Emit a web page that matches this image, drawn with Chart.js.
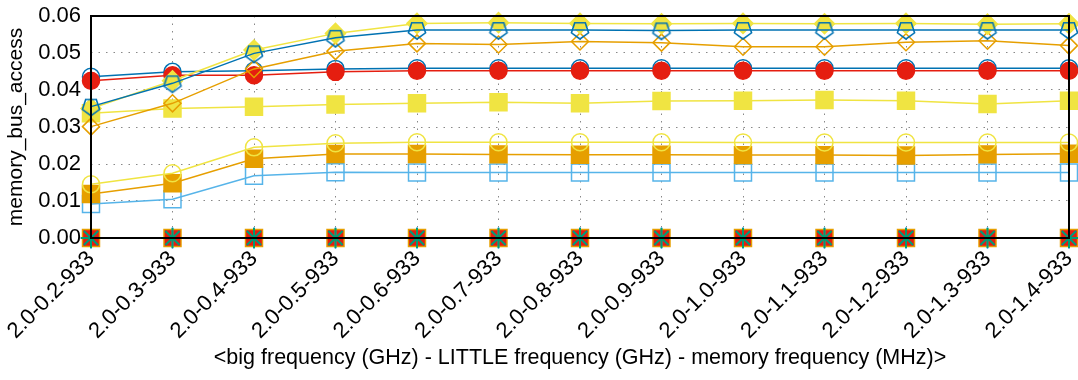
<!DOCTYPE html>
<html>
<head>
<meta charset="utf-8">
<script src="https://cdn.jsdelivr.net/npm/chart.js@4.4.0/dist/chart.umd.min.js"></script>
<style>
  html, body { margin: 0; padding: 0; background: #fff; }
  #wrap { width: 1078px; height: 380px; }
</style>
</head>
<body>
<div id="wrap"><canvas id="chart" width="1078" height="380"></canvas></div>
<script>
// categories: big freq - LITTLE freq - memory freq
const labels = [
  "2.0-0.2-933", "2.0-0.3-933", "2.0-0.4-933", "2.0-0.5-933", "2.0-0.6-933",
  "2.0-0.7-933", "2.0-0.8-933", "2.0-0.9-933", "2.0-1.0-933", "2.0-1.1-933",
  "2.0-1.2-933", "2.0-1.3-933", "2.0-1.4-933",
];

const yTicks = [0, 0.01, 0.02, 0.03, 0.04, 0.05, 0.06];

// series
const yellowDiamond = [0.0350, 0.0425, 0.0508, 0.0553, 0.0580, 0.0582, 0.0580, 0.0579, 0.0580, 0.0579, 0.0580, 0.0578, 0.0579];
const bluePentagon  = [0.0355, 0.0418, 0.0499, 0.0541, 0.0562, 0.0562, 0.0562, 0.0561, 0.0562, 0.0562, 0.0562, 0.0562, 0.0562];
const orangeDiamond = [0.0301, 0.0364, 0.0457, 0.0505, 0.0526, 0.0523, 0.0531, 0.0528, 0.0517, 0.0517, 0.0529, 0.0533, 0.0520];
const redCircle     = [0.0425, 0.0440, 0.0440, 0.0449, 0.0452, 0.0452, 0.0452, 0.0452, 0.0452, 0.0452, 0.0452, 0.0452, 0.0452];
const blueCircle    = [0.0436, 0.0449, 0.0452, 0.0457, 0.0459, 0.0459, 0.0459, 0.0459, 0.0459, 0.0459, 0.0459, 0.0459, 0.0459];
const yellowSquare  = [0.0337, 0.0350, 0.0355, 0.0361, 0.0364, 0.0367, 0.0364, 0.0370, 0.0371, 0.0373, 0.0371, 0.0362, 0.0371];
const yellowCircle  = [0.0145, 0.0175, 0.0245, 0.0256, 0.0259, 0.0259, 0.0259, 0.0259, 0.0258, 0.0258, 0.0258, 0.0258, 0.0258];
const orangeSquare  = [0.0119, 0.0148, 0.0214, 0.0227, 0.0227, 0.0226, 0.0225, 0.0225, 0.0224, 0.0224, 0.0223, 0.0226, 0.0228];
const cyanSquare    = [0.0092, 0.0105, 0.0168, 0.0178, 0.0177, 0.0177, 0.0177, 0.0177, 0.0177, 0.0177, 0.0177, 0.0177, 0.0177];
const zeroA         = [0, 0, 0, 0, 0, 0, 0, 0, 0, 0, 0, 0, 0];
const zeroB         = [0, 0, 0, 0, 0, 0, 0, 0, 0, 0, 0, 0, 0];
const zeroC         = [0, 0, 0, 0, 0, 0, 0, 0, 0, 0, 0, 0, 0];
const zeroD         = [0, 0, 0, 0, 0, 0, 0, 0, 0, 0, 0, 0, 0];
const zeroE         = [0, 0, 0, 0, 0, 0, 0, 0, 0, 0, 0, 0, 0];

const YELLOW = "#f0e442", BLUE = "#0072b2", ORANGE = "#e69f00", RED = "#e51e10",
      SKY = "#56b4e9", TEAL = "#009e73", PURPLE = "#9400d3";

// hollow pentagon, point down
function pentagon(color) {
  const c = document.createElement("canvas");
  c.width = 22; c.height = 22;
  const g = c.getContext("2d");
  g.strokeStyle = color; g.lineWidth = 1.6;
  g.beginPath();
  for (let i = 0; i < 5; i++) {
    const a = Math.PI / 2 + i * 2 * Math.PI / 5;
    const px = 11 + 9 * Math.cos(a), py = 11 + 9 * Math.sin(a);
    i ? g.lineTo(px, py) : g.moveTo(px, py);
  }
  g.closePath(); g.stroke();
  return c;
}

function series(data, color, style, radius, filled, extra) {
  return Object.assign({
    data, borderColor: color, borderWidth: 1.5,
    pointStyle: style, pointRadius: radius, pointHoverRadius: radius,
    pointBorderColor: color, pointBorderWidth: 1.5,
    pointBackgroundColor: filled ? color : "rgba(0,0,0,0)",
    tension: 0, clip: false,
  }, extra || {});
}

const datasets = [
  series(zeroE, TEAL, "star", 10, false, { pointBorderWidth: 2 }),
  series(zeroD, PURPLE, "crossRot", 10, false),
  series(zeroC, SKY, "cross", 11, false),
  series(zeroB, RED, "rect", 10, true),
  series(zeroA, ORANGE, "rect", 12, true),
  series(bluePentagon, BLUE, pentagon(BLUE), 9, false),
  series(yellowDiamond, YELLOW, "rectRot", 10, true),
  series(orangeDiamond, ORANGE, "rectRot", 8.5, false),
  series(redCircle, RED, "circle", 8.5, true),
  series(blueCircle, BLUE, "circle", 8.5, false),
  series(yellowCircle, YELLOW, "circle", 8.5, false),
  series(orangeSquare, ORANGE, "rect", 12, true),
  series(yellowSquare, YELLOW, "rect", 12, true),
  series(cyanSquare, SKY, "rect", 12, false),
];

const frame = {
  id: "frame",
  afterDatasetsDraw(chart) {
    const { ctx, chartArea: a } = chart;
    ctx.save();
    ctx.strokeStyle = "#000"; ctx.lineWidth = 2;
    ctx.strokeRect(a.left, a.top, a.right - a.left, a.bottom - a.top);
    ctx.restore();
  },
};

const FONT = "'Liberation Sans', Arial, Helvetica, sans-serif";
const gridStyle = { color: "#888", lineWidth: 1, drawTicks: false };
const borderStyle = { display: false, dash: [1.5, 6] };

new Chart(document.getElementById("chart"), {
  type: "line",
  data: { labels, datasets },
  plugins: [frame],
  options: {
    responsive: false,
    animation: false,
    events: [],
    layout: { autoPadding: false, padding: { top: 16, right: 9, left: 0, bottom: 0 } },
    plugins: { legend: { display: false }, tooltip: { enabled: false } },
    scales: {
      x: {
        type: "category",
        offset: false,
        grid: gridStyle,
        border: borderStyle,
        ticks: { color: "#000", font: { family: FONT, size: 22 }, minRotation: 45, maxRotation: 45, padding: 8, autoSkip: false },
        title: {
          display: true,
          text: "<big frequency (GHz) - LITTLE frequency (GHz) - memory frequency (MHz)>",
          color: "#000", font: { family: FONT, size: 21.5 }, padding: { top: 0, bottom: 9 },
        },
        afterFit(s) { s.height = 142; s.paddingLeft = 0; s.paddingRight = 0; },
      },
      y: {
        min: yTicks[0],
        max: yTicks[yTicks.length - 1],
        grid: gridStyle,
        border: borderStyle,
        afterBuildTicks(s) { s.ticks = yTicks.map((v) => ({ value: v })); },
        ticks: { color: "#000", font: { family: FONT, size: 22 }, padding: 10, callback: (v) => Number(v).toFixed(2) },
        title: {
          display: true, text: "memory_bus_access",
          color: "#000", font: { family: FONT, size: 21 }, padding: { top: 4, bottom: 0 },
        },
        afterFit(s) { s.width = 91; s.paddingTop = 0; s.paddingBottom = 0; },
      },
    },
  },
});
</script>
</body>
</html>
